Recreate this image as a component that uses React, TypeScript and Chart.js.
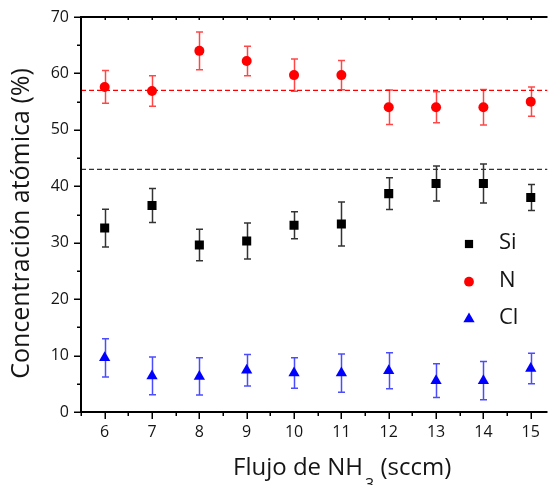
import React, { useEffect, useRef } from 'react';
import { Chart, registerables } from 'chart.js';

Chart.register(...registerables);

// ---- data ----
const flowValues = [6, 7, 8, 9, 10, 11, 12, 13, 14, 15];
const siValues = [32.6, 36.6, 29.6, 30.3, 33.1, 33.3, 38.7, 40.5, 40.5, 38.0];
const siErrors = [3.35, 3.0, 2.8, 3.2, 2.4, 3.9, 2.8, 3.1, 3.45, 2.3];
const nValues = [57.6, 56.9, 64.0, 62.2, 59.7, 59.7, 54.0, 54.0, 54.0, 55.0];
const nErrors = [2.9, 2.7, 3.35, 2.6, 2.85, 2.6, 3.05, 2.75, 3.15, 2.6];
const clValues = [9.6, 6.4, 6.3, 7.4, 6.9, 6.9, 7.3, 5.55, 5.55, 7.7];
const clErrors = [3.4, 3.35, 3.3, 2.8, 2.7, 3.4, 3.2, 3.0, 3.4, 2.7];
const nReference = 57;
const siReference = 43;
const yTicks = [0, 10, 20, 30, 40, 50, 60, 70];
const xTicks = [6, 7, 8, 9, 10, 11, 12, 13, 14, 15];
const xMin = 5.5;
const xMax = 15.354;
const yMin = 0;
const yMax = 70;

const seriesLabels = ['Si', 'N', 'Cl'];
const yTitle = 'Concentración atómica (%)';
const xTitleMain = 'Flujo de NH';
const xTitleSub = '3';
const xTitleTail = ' (sccm)';

const FONT = "'Open Sans', 'DejaVu Sans', sans-serif";
const TEXT = '#151515';

function drawMarker(ctx: CanvasRenderingContext2D, style: string, x: number, y: number, r: number, color: string) {
  ctx.save();
  ctx.fillStyle = color;
  ctx.beginPath();
  if (style === 'rect') {
    const s = Math.SQRT1_2 * r;
    ctx.rect(x - s, y - s, 2 * s, 2 * s);
  } else if (style === 'triangle') {
    let rad = 0;
    ctx.moveTo(x + Math.sin(rad) * r, y - Math.cos(rad) * r);
    rad += (2 * Math.PI) / 3;
    ctx.lineTo(x + Math.sin(rad) * r, y - Math.cos(rad) * r);
    rad += (2 * Math.PI) / 3;
    ctx.lineTo(x + Math.sin(rad) * r, y - Math.cos(rad) * r);
    ctx.closePath();
  } else {
    ctx.arc(x, y, r, 0, Math.PI * 2);
  }
  ctx.fill();
  ctx.restore();
}

const decorPlugin = {
  id: 'decor',
  beforeDatasetsDraw(chart: any) {
    const ctx: CanvasRenderingContext2D = chart.ctx;
    const yScale = chart.scales.y;
    chart.data.datasets.forEach((ds: any, di: number) => {
      if (!ds.errors) return;
      const meta = chart.getDatasetMeta(di);
      ctx.save();
      ctx.strokeStyle = ds.errorColor;
      ctx.lineWidth = 1.5;
      meta.data.forEach((pt: any, i: number) => {
        const v = ds.data[i].y;
        const e = ds.errors[i];
        const x = Math.round(pt.x) + 0.5;
        const yt = yScale.getPixelForValue(v + e);
        const yb = yScale.getPixelForValue(v - e);
        ctx.beginPath();
        ctx.moveTo(x, yt);
        ctx.lineTo(x, yb);
        ctx.moveTo(x - 3.5, yt);
        ctx.lineTo(x + 3.5, yt);
        ctx.moveTo(x - 3.5, yb);
        ctx.lineTo(x + 3.5, yb);
        ctx.stroke();
      });
      ctx.restore();
    });
  },
  afterDraw(chart: any) {
    const ctx: CanvasRenderingContext2D = chart.ctx;
    const { left, right, top, bottom } = chart.chartArea;
    const xs = chart.scales.x;
    const ys = chart.scales.y;
    ctx.save();
    ctx.strokeStyle = '#000';
    ctx.lineWidth = 2;
    // axis lines
    ctx.beginPath();
    ctx.moveTo(left, top);
    ctx.lineTo(left, bottom + 1);
    ctx.moveTo(left - 1, bottom);
    ctx.lineTo(right, bottom);
    ctx.moveTo(left - 1, top);
    ctx.lineTo(right, top);
    ctx.stroke();
    // y ticks (outward)
    ctx.lineWidth = 1.5;
    ctx.beginPath();
    for (let v = yMin; v <= yMax; v += 5) {
      const y = Math.round(ys.getPixelForValue(v)) + 0.25;
      const len = v % 10 === 0 ? 7 : 4;
      ctx.moveTo(left - len, y);
      ctx.lineTo(left, y);
    }
    // x ticks bottom (outward) and top (inward)
    for (let v = xMin; v <= xMax; v += 0.5) {
      const x = Math.round(xs.getPixelForValue(v)) + 0.25;
      const major = Math.abs(v - Math.round(v)) < 1e-6;
      const len = major ? 7 : 4;
      ctx.moveTo(x, bottom);
      ctx.lineTo(x, bottom + len);
      ctx.moveTo(x, top);
      ctx.lineTo(x, top + 3);
    }
    ctx.stroke();

    // y title
    ctx.fillStyle = TEXT;
    ctx.font = `25px ${FONT}`;
    ctx.textAlign = 'center';
    ctx.textBaseline = 'alphabetic';
    ctx.save();
    ctx.translate(29, 223.5);
    ctx.rotate(-Math.PI / 2);
    ctx.fillText(yTitle, 0, 0);
    ctx.restore();

    // x title with subscript
    const mainFont = `24px ${FONT}`;
    const subFont = `16px ${FONT}`;
    ctx.font = mainFont;
    const w1 = ctx.measureText(xTitleMain).width;
    ctx.font = subFont;
    const w2 = ctx.measureText(xTitleSub).width;
    const xStart = 233;
    const base = 475;
    ctx.textAlign = 'left';
    ctx.font = mainFont;
    ctx.fillText(xTitleMain, xStart, base);
    ctx.font = subFont;
    ctx.fillText(xTitleSub, xStart + w1 + 2, base + 15);
    ctx.font = mainFont;
    ctx.fillText(xTitleTail, xStart + w1 + w2 + 2, base);

    // legend
    const legendX = 469;
    const legendRows = [244, 281.7, 319];
    ctx.font = `22px ${FONT}`;
    ctx.textBaseline = 'middle';
    ctx.textAlign = 'left';
    seriesLabels.forEach((label, i) => {
      const ds = chart.data.datasets[i];
      drawMarker(ctx, ds.pointStyle, legendX, legendRows[i], ds.legendRadius, ds.backgroundColor);
      ctx.fillStyle = TEXT;
      ctx.fillText(label, 499, legendRows[i] - 1);
    });
    ctx.restore();
  },
};

function toPoints(values: number[]) {
  return flowValues.map((x, i) => ({ x, y: values[i] }));
}

export default function App() {
  const canvasRef = useRef<HTMLCanvasElement | null>(null);

  useEffect(() => {
    const canvas = canvasRef.current;
    if (!canvas) return;
    const chart = new Chart(canvas, {
      type: 'scatter',
      data: {
        datasets: [
          {
            label: seriesLabels[0],
            data: toPoints(siValues),
            errors: siErrors,
            errorColor: 'rgba(0,0,0,0.8)',
            pointStyle: 'rect',
            pointRadius: 6.4,
            legendRadius: 5.8,
            backgroundColor: '#000000',
            borderWidth: 0,
            order: 1,
          } as any,
          {
            label: seriesLabels[1],
            data: toPoints(nValues),
            errors: nErrors,
            errorColor: 'rgba(255,0,0,0.72)',
            pointStyle: 'circle',
            pointRadius: 5,
            legendRadius: 4.9,
            backgroundColor: '#ff0000',
            borderWidth: 0,
            order: 1,
          } as any,
          {
            label: seriesLabels[2],
            data: toPoints(clValues),
            errors: clErrors,
            errorColor: 'rgba(0,0,255,0.7)',
            pointStyle: 'triangle',
            pointRadius: 6.5,
            legendRadius: 6.5,
            backgroundColor: '#0000ff',
            borderWidth: 0,
            order: 1,
          } as any,
          {
            type: 'line',
            label: 'N ref',
            data: [
              { x: xMin, y: nReference },
              { x: xMax, y: nReference },
            ],
            borderColor: '#ff0000',
            borderWidth: 1.2,
            borderDash: [5, 3],
            pointRadius: 0,
            order: 5,
          } as any,
          {
            type: 'line',
            label: 'Si ref',
            data: [
              { x: xMin, y: siReference },
              { x: xMax, y: siReference },
            ],
            borderColor: '#333333',
            borderWidth: 1.2,
            borderDash: [5, 3],
            pointRadius: 0,
            order: 5,
          } as any,
        ],
      },
      options: {
        animation: false,
        responsive: false,
        maintainAspectRatio: false,
        layout: { padding: { top: 17, right: 0, left: 0, bottom: 0 } },
        plugins: {
          legend: { display: false },
          tooltip: { enabled: false },
        },
        scales: {
          x: {
            type: 'linear',
            min: xMin,
            max: xMax,
            afterBuildTicks: (axis: any) => {
              axis.ticks = xTicks.map((v) => ({ value: v }));
            },
            afterFit: (axis: any) => {
              axis.height = 73;
            },
            grid: { display: true, drawOnChartArea: false, drawTicks: true, tickLength: 7, color: 'rgba(0,0,0,0)' },
            border: { display: false },
            ticks: {
              padding: 4,
              autoSkip: false,
              maxRotation: 0,
              color: TEXT,
              font: { family: FONT, size: 16 },
            },
          },
          y: {
            type: 'linear',
            min: yMin,
            max: yMax,
            afterBuildTicks: (axis: any) => {
              axis.ticks = yTicks.map((v) => ({ value: v }));
            },
            afterFit: (axis: any) => {
              axis.width = 81;
            },
            grid: { display: true, drawOnChartArea: false, drawTicks: true, tickLength: 7, color: 'rgba(0,0,0,0)' },
            border: { display: false },
            ticks: {
              padding: 5,
              color: TEXT,
              font: { family: FONT, size: 16 },
            },
          },
        },
      },
      plugins: [decorPlugin],
    } as any);
    return () => chart.destroy();
  }, []);

  return (
    <div style={{ position: 'fixed', left: 0, top: 0, width: 554, height: 485, background: '#fff' }}>
      <canvas ref={canvasRef} width={554} height={485} style={{ display: 'block' }} />
    </div>
  );
}
